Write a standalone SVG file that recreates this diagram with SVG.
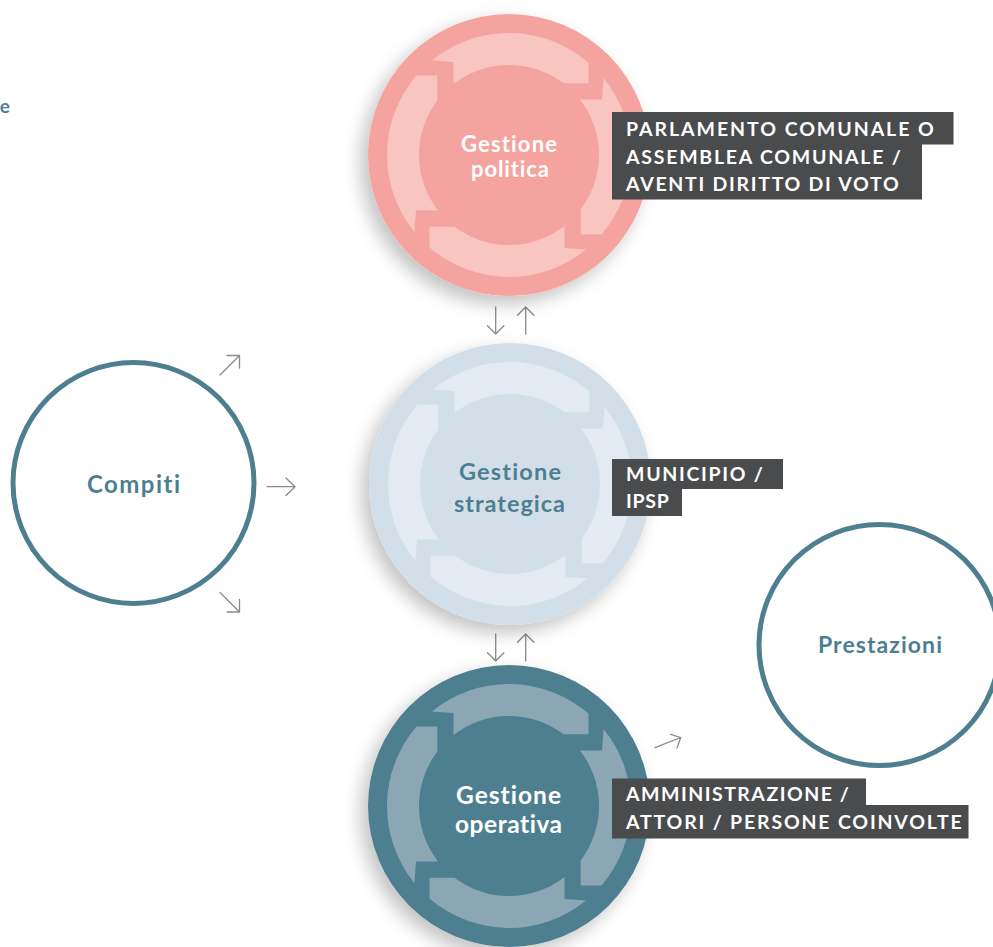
<svg xmlns="http://www.w3.org/2000/svg" width="993" height="947" viewBox="0 0 993 947">
<defs>
<style>
text{font-variant-ligatures:none;font-feature-settings:"liga" 0}
.lbl{font-family:Lato,"Open Sans","Liberation Sans",sans-serif;font-weight:700;font-size:19.5px;fill:#fff;letter-spacing:1.2px}
.ttl{font-family:Lato,"Open Sans","Liberation Sans",sans-serif;font-weight:700;text-anchor:middle}
.arr{fill:none;stroke:#8a8a8a;stroke-width:1.3;stroke-linecap:round;stroke-linejoin:round}
.box{fill:#4a4b4d}
.ring{fill:#fff;stroke:#4d7f91;stroke-width:5}
</style>
<filter id="sh" x="-30%" y="-30%" width="160%" height="160%">
<feDropShadow dx="-7" dy="8" stdDeviation="9" flood-color="#000" flood-opacity="0.24"/>
</filter>
<path id="seg" d="M-77,-94.6 A122,122 0 0 1 79.5,-92.5 L79.5,-71.7 L54.4,-71.7 A90,90 0 0 0 -55.5,-70.9 L-55.5,-93 Z"/>
<g id="cyc">
<use href="#seg"/>
<use href="#seg" transform="rotate(90)"/>
<use href="#seg" transform="rotate(180)"/>
<use href="#seg" transform="rotate(270)"/>
</g>
</defs>
<rect width="993" height="947" fill="#fff"/>

<text x="10" y="112.5" class="ttl" style="text-anchor:end;font-size:19px;fill:#4d7f91">e</text>

<g id="connectors">
<path class="arr" d="M220,375 L239.5,355.5 M227,355.5 L239.5,355.5 L239.5,368"/>
<path class="arr" d="M267,486.7 L295,486.7 M286,478 L295,486.7 L286,495.5"/>
<path class="arr" d="M220,592.5 L239.5,612 M239.5,599.5 L239.5,612 L227,612"/>
<path class="arr" d="M495.7,307 L495.7,334 M487.5,325.7 L495.7,334 L503.9,325.7"/>
<path class="arr" d="M525.7,334 L525.7,307 M517.5,315.3 L525.7,307 L533.9,315.3"/>
<path class="arr" d="M495.7,634 L495.7,661 M487.5,652.7 L495.7,661 L503.9,652.7"/>
<path class="arr" d="M525.7,661 L525.7,634 M517.5,642.3 L525.7,634 L533.9,642.3"/>
<path class="arr" d="M655,747.7 L680.7,737.5 M670.7,734.3 L680.7,737.5 L677,748"/>
</g>

<g id="compiti">
<circle class="ring" cx="133.5" cy="483" r="120.5"/>
<text class="ttl" x="133.5" y="493" style="font-size:24px;fill:#4d7f91" textLength="93">Compiti</text>
</g>

<g id="prestazioni">
<circle class="ring" cx="879.5" cy="645" r="120.5"/>
<text class="ttl" x="880" y="653" style="font-size:23px;fill:#4d7f91" textLength="124">Prestazioni</text>
</g>

<g id="gestione-politica">
<circle cx="509" cy="155" r="141" fill="#f5a39e" filter="url(#sh)"/>
<use href="#cyc" transform="translate(509,155)" fill="#f8c5c0"/>
<text class="ttl" x="509" y="151.7" style="font-size:22px;fill:#fff" textLength="96">Gestione</text>
<text class="ttl" x="510" y="177" style="font-size:22px;fill:#fff" textLength="78">politica</text>
</g>

<g id="gestione-strategica">
<circle cx="510" cy="484" r="141" fill="#d3dfe8" filter="url(#sh)"/>
<use href="#cyc" transform="translate(510,484)" fill="#e3eaf1"/>
<text class="ttl" x="510" y="480" style="font-size:23.5px;fill:#4d7f91" textLength="102">Gestione</text>
<text class="ttl" x="509.5" y="511.7" style="font-size:23.5px;fill:#4d7f91" textLength="111">strategica</text>
</g>

<g id="gestione-operativa">
<circle cx="509" cy="806" r="141" fill="#4d7f91" filter="url(#sh)"/>
<use href="#cyc" transform="translate(509,806)" fill="#8ca7b4"/>
<text class="ttl" x="508.5" y="804" style="font-size:24.5px;fill:#fff" textLength="105">Gestione</text>
<text class="ttl" x="508.5" y="832.7" style="font-size:24.5px;fill:#fff" textLength="107">operativa</text>
</g>

<g id="label-parlamento">
<path class="box" d="M612,112 H953.5 V144.5 H922 V199.5 H612 Z"/>
<text class="lbl" x="626" y="136" textLength="309">PARLAMENTO COMUNALE O</text>
<text class="lbl" x="626" y="163.5" textLength="276">ASSEMBLEA COMUNALE /</text>
<text class="lbl" x="626" y="191" textLength="274">AVENTI DIRITTO DI VOTO</text>
</g>

<g id="label-municipio">
<path class="box" d="M612,459 H783 V489 H682 V516 H612 Z"/>
<text class="lbl" x="626" y="480.5" textLength="138">MUNICIPIO /</text>
<text class="lbl" x="626" y="507.5" textLength="44">IPSP</text>
</g>

<g id="label-amministrazione">
<path class="box" d="M612,778.5 H866 V805 H968.5 V838.5 H612 Z"/>
<text class="lbl" x="626" y="801" textLength="224">AMMINISTRAZIONE /</text>
<text class="lbl" x="626" y="828.5" textLength="337">ATTORI / PERSONE COINVOLTE</text>
</g>
</svg>
